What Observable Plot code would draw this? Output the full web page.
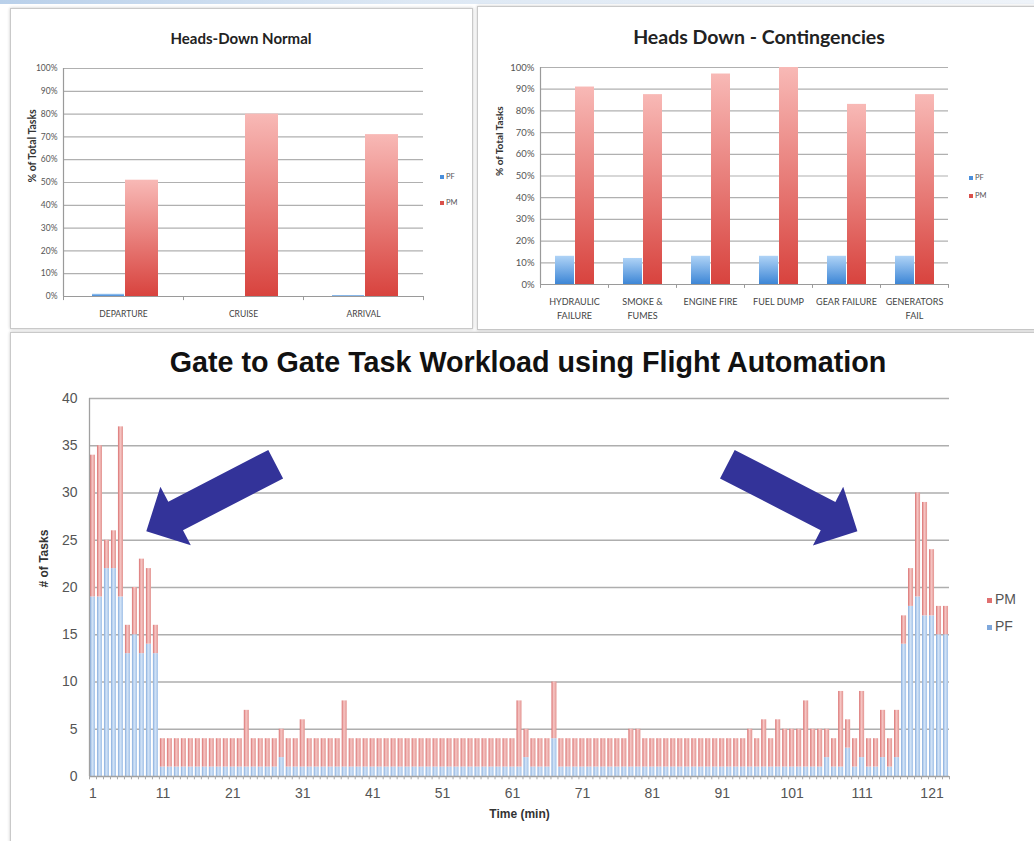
<!DOCTYPE html>
<html>
<head>
<meta charset="utf-8">
<script src="https://cdn.jsdelivr.net/npm/d3@7"></script>
<script src="https://cdn.jsdelivr.net/npm/@observablehq/plot@0.6"></script>
<style>
  html, body { margin: 0; padding: 0; background: #fff; }
  #page { position: relative; width: 1034px; height: 841px; overflow: hidden; background: #fff;
          font-family: "Liberation Sans", Arial, sans-serif; }
  .topstrip { position: absolute; left: 0; top: 0; width: 1034px; height: 4px;
              background: linear-gradient(to right, #b9d0ea, #dde8f4 40%, #eef3f9); }
  .panel { position: absolute; background: #fff; border: 1px solid #c9c9c9; box-sizing: border-box;
           box-shadow: 0 0 3px rgba(0,0,0,0.22); }
  .title { position: absolute; text-align: center; font-weight: bold; white-space: nowrap; }
  .small-title { font-family: Lato, "Open Sans", sans-serif; color: #222; }
  .chart { position: absolute; }
  .legend { position: absolute; white-space: nowrap; }
  .legend span.sw { display: inline-block; vertical-align: middle; }
</style>
</head>
<body>
<div id="page">
  <div class="topstrip"></div>
  <div class="panel" style="left:10px;top:8px;width:463px;height:321px;"></div>
  <div class="panel" style="left:477px;top:6px;width:580px;height:324px;"></div>
  <div class="panel" style="left:10px;top:332px;width:1040px;height:530px;"></div>

  <div class="title small-title" style="left:10px;width:462px;top:28px;font-size:15px;line-height:20px;">Heads-Down Normal</div>
  <div class="title small-title" style="left:477px;width:564px;top:26px;font-size:19.5px;line-height:22px;">Heads Down - Contingencies</div>
  <div class="title" style="left:0;width:1056px;top:345px;font-size:28.7px;line-height:34px;color:#111;">Gate to Gate Task Workload using Flight Automation</div>
</div>
<script>
// ---- Heads-Down Normal (% of total tasks) ----
const normalCategories = ["DEPARTURE", "CRUISE", "ARRIVAL"];
const normalPF = [1, 0, 0.4];
const normalPM = [51, 80, 71];

// ---- Heads Down - Contingencies (% of total tasks) ----
const contingencyCategories = ["HYDRAULIC FAILURE", "SMOKE & FUMES", "ENGINE FIRE", "FUEL DUMP", "GEAR FAILURE", "GENERATORS FAIL"];
const contingencyLabels = ["HYDRAULIC\nFAILURE", "SMOKE &\nFUMES", "ENGINE FIRE", "FUEL DUMP", "GEAR FAILURE", "GENERATORS\nFAIL"];
const contingencyPF = [13, 12, 13, 13, 13, 13];
const contingencyPM = [91, 87.5, 97, 100, 83, 87.5];

const percentTicks = [0, 10, 20, 30, 40, 50, 60, 70, 80, 90, 100];

// ---- Gate to gate workload: tasks per minute ----
const minutes = d3.range(1, 124);
const pfTasks = [
  19, 19, 22, 22, 19, 13, 15, 13, 14, 13,
  1, 1, 1, 1, 1, 1, 1, 1, 1, 1,
  1, 1, 1, 1, 1, 1, 1, 2, 1, 1,
  1, 1, 1, 1, 1, 1, 1, 1, 1, 1,
  1, 1, 1, 1, 1, 1, 1, 1, 1, 1,
  1, 1, 1, 1, 1, 1, 1, 1, 1, 1,
  1, 1, 2, 1, 1, 1, 4, 1, 1, 1,
  1, 1, 1, 1, 1, 1, 1, 1, 1, 1,
  1, 1, 1, 1, 1, 1, 1, 1, 1, 1,
  1, 1, 1, 1, 1, 1, 1, 1, 1, 1,
  1, 1, 1, 1, 1, 2, 1, 1, 3, 1,
  2, 1, 1, 2, 1, 2, 14, 18, 19, 17,
  17, 15, 15
];
const pmTasks = [
  15, 16, 3, 4, 18, 3, 5, 10, 8, 3,
  3, 3, 3, 3, 3, 3, 3, 3, 3, 3,
  3, 3, 6, 3, 3, 3, 3, 3, 3, 3,
  5, 3, 3, 3, 3, 3, 7, 3, 3, 3,
  3, 3, 3, 3, 3, 3, 3, 3, 3, 3,
  3, 3, 3, 3, 3, 3, 3, 3, 3, 3,
  3, 7, 3, 3, 3, 3, 6, 3, 3, 3,
  3, 3, 3, 3, 3, 3, 3, 4, 4, 3,
  3, 3, 3, 3, 3, 3, 3, 3, 3, 3,
  3, 3, 3, 3, 4, 3, 5, 3, 5, 4,
  4, 4, 7, 4, 4, 3, 3, 8, 3, 3,
  7, 3, 3, 5, 3, 5, 3, 4, 11, 12,
  7, 3, 3
];
const minuteTicks = [1, 11, 21, 31, 41, 51, 61, 71, 81, 91, 101, 111, 121];
const taskTicks = [0, 5, 10, 15, 20, 25, 30, 35, 40];

// Callout arrows pointing at the busy departure and arrival phases (minute, tasks)
const calloutArrows = [
  {fromMinute: 27.2, fromTasks: 33.0, toMinute: 8.7, toTasks: 25.9},
  {fromMinute: 91.8, fromTasks: 33.0, toMinute: 110.4, toTasks: 25.9}
];

const page = document.getElementById("page");
const SVGNS = "http://www.w3.org/2000/svg";

function addDefs(svg, markup) {
  const defs = document.createElementNS(SVGNS, "defs");
  defs.innerHTML = markup;
  svg.insertBefore(defs, svg.firstChild);
}

function mount(node, left, top) {
  const wrap = document.createElement("div");
  wrap.className = "chart";
  wrap.style.left = left + "px";
  wrap.style.top = top + "px";
  wrap.style.width = node.getAttribute("width") + "px";
  wrap.appendChild(node);
  page.appendChild(wrap);
}

function addLegend(items, left, top, gap, fontSize, swatch, fontFamily, color) {
  items.forEach((it, i) => {
    const d = document.createElement("div");
    d.className = "legend";
    d.style.left = left + "px";
    d.style.top = (top + i * gap) + "px";
    d.style.fontSize = fontSize + "px";
    d.style.lineHeight = fontSize + 2 + "px";
    d.style.fontFamily = fontFamily;
    d.style.color = color;
    d.innerHTML = `<span class="sw" style="width:${swatch}px;height:${swatch}px;background:${it.color};margin-right:${Math.round(swatch * 0.6)}px;"></span>${it.label}`;
    page.appendChild(d);
  });
}

const verticalGradients = `
  <linearGradient id="gradPFv" x1="0" y1="0" x2="0" y2="1">
    <stop offset="0" stop-color="#afd3f6"/><stop offset="1" stop-color="#3d86d6"/>
  </linearGradient>
  <linearGradient id="gradPMv" x1="0" y1="0" x2="0" y2="1">
    <stop offset="0" stop-color="#f8b9b6"/><stop offset="1" stop-color="#d8433e"/>
  </linearGradient>`;

// Grouped PF / PM percentage chart with Excel-like styling
function groupedPercentChart({categories, labels, pf, pm, width, height, margin, pfInset, pmInset,
                              labelDy, labelLineHeight, titleDx, tickFont, labelFont, titleFont, ids}) {
  const rows = categories.map((c, i) => ({category: c, label: labels[i], pf: pf[i], pm: pm[i]}));
  const bandwidth = (width - margin.left - margin.right) / categories.length;
  const svg = Plot.plot({
    width, height,
    marginLeft: margin.left, marginRight: margin.right, marginTop: margin.top, marginBottom: margin.bottom,
    x: {type: "band", domain: categories, padding: 0, axis: null},
    y: {domain: [0, 100], ticks: percentTicks, tickFormat: d => d + "%", tickSize: 0, tickPadding: 6, label: null},
    style: {fontFamily: "Lato, 'Open Sans', sans-serif", fontSize: tickFont + "px", color: "#555", background: "transparent"},
    marks: [
      Plot.ruleY(percentTicks.slice(1), {stroke: "#b0b0b0", strokeWidth: 1.2}),
      Plot.barY(rows, {x: "category", y: "pf", fill: `url(#${ids.pf})`, insetLeft: pfInset[0], insetRight: pfInset[1]}),
      Plot.barY(rows, {x: "category", y: "pm", fill: `url(#${ids.pm})`, insetLeft: pmInset[0], insetRight: pmInset[1]}),
      Plot.ruleY([0], {stroke: "#9a9a9a", strokeWidth: 1.2}),
      Plot.ruleX([categories[0]], {y1: 0, y2: 100, dx: -bandwidth / 2, stroke: "#9a9a9a", strokeWidth: 1.2}),
      Plot.ruleX(categories, {y1: 0, y2: -1.8, dx: -bandwidth / 2, stroke: "#9a9a9a"}),
      Plot.ruleX([categories[categories.length - 1]], {y1: 0, y2: -1.8, dx: bandwidth / 2, stroke: "#9a9a9a"}),
      Plot.text(rows, {x: "category", text: "label", frameAnchor: "bottom", dy: labelDy, lineAnchor: "top",
                       lineHeight: labelLineHeight, fill: "#444", fontSize: labelFont}),
      Plot.text(["% of Total Tasks"], {text: d => d, frameAnchor: "left", dx: titleDx, rotate: -90,
                                       fontWeight: "bold", fill: "#333", fontSize: titleFont})
    ]
  });
  addDefs(svg, verticalGradients.replace("gradPFv", ids.pf).replace("gradPMv", ids.pm));
  return svg;
}

const normalChart = groupedPercentChart({
  categories: normalCategories, labels: normalCategories, pf: normalPF, pm: normalPM,
  width: 462, height: 278, margin: {left: 53, right: 49, top: 18, bottom: 32},
  pfInset: [29, 59], pmInset: [62, 25], labelDy: 11, labelLineHeight: 1.5, titleDx: -31,
  tickFont: 8.5, labelFont: 8.5, titleFont: 10.5,
  ids: {pf: "gradPFn", pm: "gradPMn"}
});
mount(normalChart, 10, 50);

const contingencyChart = groupedPercentChart({
  categories: contingencyCategories, labels: contingencyLabels, pf: contingencyPF, pm: contingencyPM,
  width: 557, height: 280, margin: {left: 63, right: 86, top: 17, bottom: 46},
  pfInset: [15, 34], pmInset: [35, 14], labelDy: 10, labelLineHeight: 1.6, titleDx: -41,
  tickFont: 9.5, labelFont: 9, titleFont: 10,
  ids: {pf: "gradPFc", pm: "gradPMc"}
});
mount(contingencyChart, 477, 50);

addLegend([{label: "PF", color: "#4a8fdc"}, {label: "PM", color: "#d9504b"}], 440, 172, 26, 7.5, 4, "Lato, sans-serif", "#555");
addLegend([{label: "PF", color: "#4a8fdc"}, {label: "PM", color: "#d9504b"}], 969, 173, 18, 7.5, 4, "Lato, sans-serif", "#555");

// ---- Gate to gate stacked columns ----
const workload = minutes.map((m, i) => ({minute: m, pf: pfTasks[i], pm: pmTasks[i]}));
const barHalf = 0.36;

function arrowPath(x0, y0, x1, y1, shaftW, headW, headL) {
  const len = Math.hypot(x1 - x0, y1 - y0);
  const ux = (x1 - x0) / len, uy = (y1 - y0) / len;
  const px = -uy, py = ux;
  const bx = x1 - ux * headL, by = y1 - uy * headL;
  const pts = [
    [x0 + px * shaftW / 2, y0 + py * shaftW / 2],
    [bx + px * shaftW / 2, by + py * shaftW / 2],
    [bx + px * headW / 2, by + py * headW / 2],
    [x1, y1],
    [bx - px * headW / 2, by - py * headW / 2],
    [bx - px * shaftW / 2, by - py * shaftW / 2],
    [x0 - px * shaftW / 2, y0 - py * shaftW / 2]
  ];
  return "M" + pts.map(p => p[0].toFixed(1) + "," + p[1].toFixed(1)).join("L") + "Z";
}

const calloutMark = (index, scales) => {
  const g = document.createElementNS(SVGNS, "g");
  for (const a of calloutArrows) {
    const path = document.createElementNS(SVGNS, "path");
    path.setAttribute("d", arrowPath(scales.x(a.fromMinute), scales.y(a.fromTasks),
                                     scales.x(a.toMinute), scales.y(a.toTasks), 32, 66, 33));
    path.setAttribute("fill", "#333399");
    g.appendChild(path);
  }
  return g;
};

const edges = minutes.map(m => m - 0.5).concat([minutes[minutes.length - 1] + 0.5]);

const workloadChart = Plot.plot({
  width: 1034, height: 456,
  marginLeft: 89, marginRight: 85, marginTop: 13, marginBottom: 65,
  x: {domain: [0.5, 123.5], ticks: minuteTicks, tickSize: 0, tickPadding: 12, label: null},
  y: {domain: [0, 40], ticks: taskTicks, tickSize: 0, tickPadding: 12, label: null},
  style: {fontFamily: "'Liberation Sans', Arial, sans-serif", fontSize: "14px", color: "#555", background: "transparent"},
  marks: [
    Plot.ruleY(taskTicks.slice(1), {stroke: "#aeaeae", strokeWidth: 1.3}),
    Plot.rect(workload, {x1: d => d.minute - barHalf, x2: d => d.minute + barHalf, y1: 0, y2: d => d.pf, fill: "url(#gradPFh)"}),
    Plot.rect(workload, {x1: d => d.minute - barHalf, x2: d => d.minute + barHalf, y1: d => d.pf, y2: d => d.pf + d.pm, fill: "url(#gradPMh)"}),
    Plot.ruleY([0], {stroke: "#a0a0a0", strokeWidth: 1.3}),
    Plot.ruleX([0.5], {y1: 0, y2: 40, stroke: "#a0a0a0", strokeWidth: 1.3}),
    Plot.ruleX(edges, {y1: 0, y2: -0.35, stroke: "#a8a8a8"}),
    calloutMark,
    Plot.text(["Time (min)"], {text: d => d, frameAnchor: "bottom", dy: 41, fontWeight: "bold", fontSize: 12, fill: "#333"}),
    Plot.text(["# of Tasks"], {text: d => d, frameAnchor: "left", dx: -45, rotate: -90, fontWeight: "bold", fontSize: 12, fill: "#333"})
  ]
});
addDefs(workloadChart, `
  <linearGradient id="gradPFh" x1="0" y1="0" x2="1" y2="0">
    <stop offset="0" stop-color="#86acdd"/><stop offset="0.45" stop-color="#d3e4f7"/><stop offset="1" stop-color="#a3c2e8"/>
  </linearGradient>
  <linearGradient id="gradPMh" x1="0" y1="0" x2="1" y2="0">
    <stop offset="0" stop-color="#d96f6f"/><stop offset="0.45" stop-color="#f6c7c5"/><stop offset="1" stop-color="#e39491"/>
  </linearGradient>`);
mount(workloadChart, 0, 385);

addLegend([{label: "PM", color: "#e07070"}, {label: "PF", color: "#7fa8dc"}], 987, 591, 27, 14, 5, "'Liberation Sans', Arial, sans-serif", "#555");
</script>
</body>
</html>
